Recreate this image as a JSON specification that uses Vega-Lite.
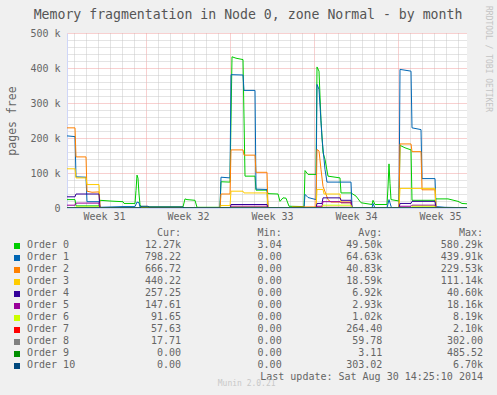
{
  "$schema": "https://vega.github.io/schema/vega-lite/v6.json",
  "width": 400,
  "height": 175,
  "autosize": {"type": "none"},
  "padding": {"left": 67, "top": 33, "right": 30, "bottom": 187},
  "background": "#F0F0F0",
  "config": {
    "font": "DejaVu Sans Mono",
    "view": {"fill": "#FFFFFF", "stroke": null},
    "axis": {"labelFont": "DejaVu Sans Mono", "titleFont": "DejaVu Sans Mono"},
    "text": {"font": "DejaVu Sans Mono"}
  },
  "title": {
    "text": "Memory fragmentation in Node 0, zone Normal - by month",
    "font": "DejaVu Sans Mono",
    "fontSize": 13.2,
    "fontWeight": "normal",
    "color": "#555555",
    "anchor": "middle",
    "frame": "group",
    "dx": -19,
    "offset": 0,
    "dy": 17
  },
  "datasets": {
    "series": [
      {"o":0,"t":"2014-07-28T10:00Z","v":24000},
      {"o":0,"t":"2014-07-29T02:00Z","v":24000},
      {"o":0,"t":"2014-07-29T04:00Z","v":6000},
      {"o":0,"t":"2014-07-31T02:00Z","v":6000},
      {"o":0,"t":"2014-07-31T04:00Z","v":22000},
      {"o":0,"t":"2014-07-31T14:00Z","v":21000},
      {"o":0,"t":"2014-08-01T00:00Z","v":20000},
      {"o":0,"t":"2014-08-01T12:00Z","v":19000},
      {"o":0,"t":"2014-08-02T02:00Z","v":18000},
      {"o":0,"t":"2014-08-02T04:00Z","v":13000},
      {"o":0,"t":"2014-08-03T02:00Z","v":13000},
      {"o":0,"t":"2014-08-03T04:00Z","v":50000},
      {"o":0,"t":"2014-08-03T06:00Z","v":94000},
      {"o":0,"t":"2014-08-03T08:00Z","v":85000},
      {"o":0,"t":"2014-08-03T10:00Z","v":40000},
      {"o":0,"t":"2014-08-03T12:00Z","v":10000},
      {"o":0,"t":"2014-08-03T14:00Z","v":3000},
      {"o":0,"t":"2014-08-07T02:00Z","v":3000},
      {"o":0,"t":"2014-08-07T06:00Z","v":26000},
      {"o":0,"t":"2014-08-07T10:00Z","v":24000},
      {"o":0,"t":"2014-08-08T02:00Z","v":22000},
      {"o":0,"t":"2014-08-08T06:00Z","v":2000},
      {"o":0,"t":"2014-08-10T04:00Z","v":2000},
      {"o":0,"t":"2014-08-10T06:00Z","v":75000},
      {"o":0,"t":"2014-08-11T00:00Z","v":74000},
      {"o":0,"t":"2014-08-11T04:00Z","v":432000},
      {"o":0,"t":"2014-08-11T12:00Z","v":428000},
      {"o":0,"t":"2014-08-12T02:00Z","v":424000},
      {"o":0,"t":"2014-08-12T06:00Z","v":91000},
      {"o":0,"t":"2014-08-13T02:00Z","v":91000},
      {"o":0,"t":"2014-08-13T04:00Z","v":51000},
      {"o":0,"t":"2014-08-14T02:00Z","v":51000},
      {"o":0,"t":"2014-08-14T04:00Z","v":41000},
      {"o":0,"t":"2014-08-15T00:00Z","v":40000},
      {"o":0,"t":"2014-08-15T04:00Z","v":19000},
      {"o":0,"t":"2014-08-15T10:00Z","v":29000},
      {"o":0,"t":"2014-08-15T16:00Z","v":28000},
      {"o":0,"t":"2014-08-15T22:00Z","v":5000},
      {"o":0,"t":"2014-08-17T04:00Z","v":4000},
      {"o":0,"t":"2014-08-17T06:00Z","v":107000},
      {"o":0,"t":"2014-08-17T12:00Z","v":96000},
      {"o":0,"t":"2014-08-18T04:00Z","v":96000},
      {"o":0,"t":"2014-08-18T06:00Z","v":403000},
      {"o":0,"t":"2014-08-18T10:00Z","v":391000},
      {"o":0,"t":"2014-08-18T14:00Z","v":250000},
      {"o":0,"t":"2014-08-18T18:00Z","v":158000},
      {"o":0,"t":"2014-08-18T22:00Z","v":139000},
      {"o":0,"t":"2014-08-19T04:00Z","v":91000},
      {"o":0,"t":"2014-08-20T04:00Z","v":86000},
      {"o":0,"t":"2014-08-20T06:00Z","v":43000},
      {"o":0,"t":"2014-08-21T02:00Z","v":43000},
      {"o":0,"t":"2014-08-21T12:00Z","v":34000},
      {"o":0,"t":"2014-08-21T22:00Z","v":15000},
      {"o":0,"t":"2014-08-22T20:00Z","v":10000},
      {"o":0,"t":"2014-08-22T22:00Z","v":22000},
      {"o":0,"t":"2014-08-23T02:00Z","v":10000},
      {"o":0,"t":"2014-08-24T02:00Z","v":10000},
      {"o":0,"t":"2014-08-24T04:00Z","v":60000},
      {"o":0,"t":"2014-08-24T06:00Z","v":126000},
      {"o":0,"t":"2014-08-24T08:00Z","v":70000},
      {"o":0,"t":"2014-08-24T10:00Z","v":24000},
      {"o":0,"t":"2014-08-25T02:00Z","v":20000},
      {"o":0,"t":"2014-08-25T04:00Z","v":179000},
      {"o":0,"t":"2014-08-25T14:00Z","v":172000},
      {"o":0,"t":"2014-08-26T02:00Z","v":166000},
      {"o":0,"t":"2014-08-26T04:00Z","v":22000},
      {"o":0,"t":"2014-08-28T02:00Z","v":22000},
      {"o":0,"t":"2014-08-28T04:00Z","v":26000},
      {"o":0,"t":"2014-08-29T04:00Z","v":26000},
      {"o":0,"t":"2014-08-30T00:00Z","v":19000},
      {"o":0,"t":"2014-08-30T08:00Z","v":13000},
      {"o":0,"t":"2014-08-30T18:00Z","v":12000},

      {"o":1,"t":"2014-07-28T10:00Z","v":206000},
      {"o":1,"t":"2014-07-29T02:00Z","v":204000},
      {"o":1,"t":"2014-07-29T04:00Z","v":89000},
      {"o":1,"t":"2014-07-30T00:00Z","v":88000},
      {"o":1,"t":"2014-07-30T02:00Z","v":18000},
      {"o":1,"t":"2014-07-31T02:00Z","v":18000},
      {"o":1,"t":"2014-07-31T04:00Z","v":2000},
      {"o":1,"t":"2014-08-02T02:00Z","v":4000},
      {"o":1,"t":"2014-08-03T02:00Z","v":4000},
      {"o":1,"t":"2014-08-03T06:00Z","v":17000},
      {"o":1,"t":"2014-08-03T10:00Z","v":15000},
      {"o":1,"t":"2014-08-03T12:00Z","v":3000},
      {"o":1,"t":"2014-08-03T14:00Z","v":0},
      {"o":1,"t":"2014-08-10T04:00Z","v":0},
      {"o":1,"t":"2014-08-10T06:00Z","v":88000},
      {"o":1,"t":"2014-08-11T00:00Z","v":86000},
      {"o":1,"t":"2014-08-11T02:00Z","v":381000},
      {"o":1,"t":"2014-08-12T02:00Z","v":380000},
      {"o":1,"t":"2014-08-12T04:00Z","v":336000},
      {"o":1,"t":"2014-08-13T02:00Z","v":336000},
      {"o":1,"t":"2014-08-13T04:00Z","v":54000},
      {"o":1,"t":"2014-08-14T02:00Z","v":53000},
      {"o":1,"t":"2014-08-14T04:00Z","v":0},
      {"o":1,"t":"2014-08-17T04:00Z","v":0},
      {"o":1,"t":"2014-08-17T06:00Z","v":39000},
      {"o":1,"t":"2014-08-17T12:00Z","v":30000},
      {"o":1,"t":"2014-08-18T04:00Z","v":24000},
      {"o":1,"t":"2014-08-18T06:00Z","v":353000},
      {"o":1,"t":"2014-08-18T10:00Z","v":339000},
      {"o":1,"t":"2014-08-18T16:00Z","v":200000},
      {"o":1,"t":"2014-08-18T22:00Z","v":110000},
      {"o":1,"t":"2014-08-19T02:00Z","v":74000},
      {"o":1,"t":"2014-08-21T02:00Z","v":74000},
      {"o":1,"t":"2014-08-21T04:00Z","v":3000},
      {"o":1,"t":"2014-08-21T06:00Z","v":0},
      {"o":1,"t":"2014-08-22T20:00Z","v":0},
      {"o":1,"t":"2014-08-22T22:00Z","v":13000},
      {"o":1,"t":"2014-08-23T02:00Z","v":0},
      {"o":1,"t":"2014-08-24T02:00Z","v":0},
      {"o":1,"t":"2014-08-24T06:00Z","v":24000},
      {"o":1,"t":"2014-08-24T10:00Z","v":5000},
      {"o":1,"t":"2014-08-24T12:00Z","v":0},
      {"o":1,"t":"2014-08-25T02:00Z","v":0},
      {"o":1,"t":"2014-08-25T04:00Z","v":396000},
      {"o":1,"t":"2014-08-26T02:00Z","v":391000},
      {"o":1,"t":"2014-08-26T04:00Z","v":229000},
      {"o":1,"t":"2014-08-26T22:00Z","v":224000},
      {"o":1,"t":"2014-08-27T00:00Z","v":84000},
      {"o":1,"t":"2014-08-28T02:00Z","v":84000},
      {"o":1,"t":"2014-08-28T04:00Z","v":4000},
      {"o":1,"t":"2014-08-28T22:00Z","v":2000},
      {"o":1,"t":"2014-08-30T18:00Z","v":800},

      {"o":2,"t":"2014-07-28T10:00Z","v":229000},
      {"o":2,"t":"2014-07-29T02:00Z","v":229000},
      {"o":2,"t":"2014-07-29T04:00Z","v":146000},
      {"o":2,"t":"2014-07-30T00:00Z","v":146000},
      {"o":2,"t":"2014-07-30T02:00Z","v":48000},
      {"o":2,"t":"2014-07-30T12:00Z","v":45000},
      {"o":2,"t":"2014-07-31T02:00Z","v":46000},
      {"o":2,"t":"2014-07-31T04:00Z","v":0},
      {"o":2,"t":"2014-08-10T04:00Z","v":0},
      {"o":2,"t":"2014-08-10T06:00Z","v":40000},
      {"o":2,"t":"2014-08-11T00:00Z","v":40000},
      {"o":2,"t":"2014-08-11T02:00Z","v":166000},
      {"o":2,"t":"2014-08-12T02:00Z","v":166000},
      {"o":2,"t":"2014-08-12T04:00Z","v":151000},
      {"o":2,"t":"2014-08-13T02:00Z","v":151000},
      {"o":2,"t":"2014-08-13T04:00Z","v":102000},
      {"o":2,"t":"2014-08-14T02:00Z","v":102000},
      {"o":2,"t":"2014-08-14T04:00Z","v":0},
      {"o":2,"t":"2014-08-16T02:00Z","v":0},
      {"o":2,"t":"2014-08-16T04:00Z","v":3000},
      {"o":2,"t":"2014-08-18T04:00Z","v":3000},
      {"o":2,"t":"2014-08-18T06:00Z","v":167000},
      {"o":2,"t":"2014-08-18T10:00Z","v":163000},
      {"o":2,"t":"2014-08-18T14:00Z","v":110000},
      {"o":2,"t":"2014-08-18T18:00Z","v":62000},
      {"o":2,"t":"2014-08-19T00:00Z","v":39000},
      {"o":2,"t":"2014-08-19T04:00Z","v":24000},
      {"o":2,"t":"2014-08-19T10:00Z","v":17000},
      {"o":2,"t":"2014-08-21T02:00Z","v":17000},
      {"o":2,"t":"2014-08-21T04:00Z","v":0},
      {"o":2,"t":"2014-08-25T02:00Z","v":0},
      {"o":2,"t":"2014-08-25T04:00Z","v":183000},
      {"o":2,"t":"2014-08-26T02:00Z","v":183000},
      {"o":2,"t":"2014-08-26T04:00Z","v":161000},
      {"o":2,"t":"2014-08-26T22:00Z","v":161000},
      {"o":2,"t":"2014-08-27T00:00Z","v":52000},
      {"o":2,"t":"2014-08-28T02:00Z","v":52000},
      {"o":2,"t":"2014-08-28T04:00Z","v":1000},
      {"o":2,"t":"2014-08-30T18:00Z","v":700},

      {"o":3,"t":"2014-07-28T10:00Z","v":112000},
      {"o":3,"t":"2014-07-29T02:00Z","v":112000},
      {"o":3,"t":"2014-07-29T04:00Z","v":86000},
      {"o":3,"t":"2014-07-30T00:00Z","v":86000},
      {"o":3,"t":"2014-07-30T02:00Z","v":67000},
      {"o":3,"t":"2014-07-31T02:00Z","v":67000},
      {"o":3,"t":"2014-07-31T04:00Z","v":0},
      {"o":3,"t":"2014-08-10T04:00Z","v":0},
      {"o":3,"t":"2014-08-10T06:00Z","v":7000},
      {"o":3,"t":"2014-08-11T00:00Z","v":7000},
      {"o":3,"t":"2014-08-11T02:00Z","v":48000},
      {"o":3,"t":"2014-08-12T02:00Z","v":48000},
      {"o":3,"t":"2014-08-12T04:00Z","v":43000},
      {"o":3,"t":"2014-08-14T02:00Z","v":43000},
      {"o":3,"t":"2014-08-14T04:00Z","v":0},
      {"o":3,"t":"2014-08-18T04:00Z","v":0},
      {"o":3,"t":"2014-08-18T06:00Z","v":53000},
      {"o":3,"t":"2014-08-18T18:00Z","v":53000},
      {"o":3,"t":"2014-08-18T20:00Z","v":40000},
      {"o":3,"t":"2014-08-20T04:00Z","v":40000},
      {"o":3,"t":"2014-08-20T06:00Z","v":15000},
      {"o":3,"t":"2014-08-21T02:00Z","v":15000},
      {"o":3,"t":"2014-08-21T04:00Z","v":0},
      {"o":3,"t":"2014-08-25T02:00Z","v":0},
      {"o":3,"t":"2014-08-25T04:00Z","v":56000},
      {"o":3,"t":"2014-08-28T02:00Z","v":56000},
      {"o":3,"t":"2014-08-28T04:00Z","v":500},
      {"o":3,"t":"2014-08-30T18:00Z","v":440},

      {"o":4,"t":"2014-07-28T10:00Z","v":32000},
      {"o":4,"t":"2014-07-29T02:00Z","v":32000},
      {"o":4,"t":"2014-07-29T04:00Z","v":40000},
      {"o":4,"t":"2014-07-31T02:00Z","v":40000},
      {"o":4,"t":"2014-07-31T04:00Z","v":0},
      {"o":4,"t":"2014-08-11T00:00Z","v":0},
      {"o":4,"t":"2014-08-11T02:00Z","v":10000},
      {"o":4,"t":"2014-08-14T02:00Z","v":10000},
      {"o":4,"t":"2014-08-14T04:00Z","v":0},
      {"o":4,"t":"2014-08-18T04:00Z","v":0},
      {"o":4,"t":"2014-08-18T06:00Z","v":13000},
      {"o":4,"t":"2014-08-18T16:00Z","v":13000},
      {"o":4,"t":"2014-08-18T18:00Z","v":29000},
      {"o":4,"t":"2014-08-20T04:00Z","v":29000},
      {"o":4,"t":"2014-08-20T06:00Z","v":22000},
      {"o":4,"t":"2014-08-21T02:00Z","v":22000},
      {"o":4,"t":"2014-08-21T04:00Z","v":0},
      {"o":4,"t":"2014-08-25T02:00Z","v":0},
      {"o":4,"t":"2014-08-25T04:00Z","v":13000},
      {"o":4,"t":"2014-08-26T02:00Z","v":13000},
      {"o":4,"t":"2014-08-26T04:00Z","v":19000},
      {"o":4,"t":"2014-08-28T02:00Z","v":19000},
      {"o":4,"t":"2014-08-28T04:00Z","v":300},
      {"o":4,"t":"2014-08-30T18:00Z","v":257},

      {"o":5,"t":"2014-07-28T10:00Z","v":8000},
      {"o":5,"t":"2014-07-29T02:00Z","v":8000},
      {"o":5,"t":"2014-07-29T04:00Z","v":14000},
      {"o":5,"t":"2014-07-31T02:00Z","v":14000},
      {"o":5,"t":"2014-07-31T04:00Z","v":0},
      {"o":5,"t":"2014-08-11T00:00Z","v":0},
      {"o":5,"t":"2014-08-11T02:00Z","v":5000},
      {"o":5,"t":"2014-08-14T02:00Z","v":5000},
      {"o":5,"t":"2014-08-14T04:00Z","v":0},
      {"o":5,"t":"2014-08-18T04:00Z","v":0},
      {"o":5,"t":"2014-08-18T06:00Z","v":5000},
      {"o":5,"t":"2014-08-18T16:00Z","v":5000},
      {"o":5,"t":"2014-08-18T18:00Z","v":18000},
      {"o":5,"t":"2014-08-20T04:00Z","v":18000},
      {"o":5,"t":"2014-08-20T06:00Z","v":15000},
      {"o":5,"t":"2014-08-21T02:00Z","v":15000},
      {"o":5,"t":"2014-08-21T04:00Z","v":0},
      {"o":5,"t":"2014-08-25T02:00Z","v":0},
      {"o":5,"t":"2014-08-25T04:00Z","v":5000},
      {"o":5,"t":"2014-08-26T02:00Z","v":5000},
      {"o":5,"t":"2014-08-26T04:00Z","v":8000},
      {"o":5,"t":"2014-08-28T02:00Z","v":8000},
      {"o":5,"t":"2014-08-28T04:00Z","v":150},
      {"o":5,"t":"2014-08-30T18:00Z","v":148},

      {"o":6,"t":"2014-07-28T10:00Z","v":1000},
      {"o":6,"t":"2014-07-29T02:00Z","v":1000},
      {"o":6,"t":"2014-07-29T04:00Z","v":3000},
      {"o":6,"t":"2014-07-31T02:00Z","v":3000},
      {"o":6,"t":"2014-07-31T04:00Z","v":0},
      {"o":6,"t":"2014-08-11T00:00Z","v":0},
      {"o":6,"t":"2014-08-11T02:00Z","v":2000},
      {"o":6,"t":"2014-08-14T02:00Z","v":2000},
      {"o":6,"t":"2014-08-14T04:00Z","v":0},
      {"o":6,"t":"2014-08-18T16:00Z","v":0},
      {"o":6,"t":"2014-08-18T18:00Z","v":8000},
      {"o":6,"t":"2014-08-21T02:00Z","v":8000},
      {"o":6,"t":"2014-08-21T04:00Z","v":0},
      {"o":6,"t":"2014-08-26T02:00Z","v":0},
      {"o":6,"t":"2014-08-26T04:00Z","v":5000},
      {"o":6,"t":"2014-08-28T02:00Z","v":5000},
      {"o":6,"t":"2014-08-28T04:00Z","v":92},
      {"o":6,"t":"2014-08-30T18:00Z","v":92},

      {"o":7,"t":"2014-07-28T10:00Z","v":0},
      {"o":7,"t":"2014-08-18T04:00Z","v":0},
      {"o":7,"t":"2014-08-18T06:00Z","v":2000},
      {"o":7,"t":"2014-08-21T02:00Z","v":2000},
      {"o":7,"t":"2014-08-21T04:00Z","v":0},
      {"o":7,"t":"2014-08-26T02:00Z","v":0},
      {"o":7,"t":"2014-08-26T04:00Z","v":1000},
      {"o":7,"t":"2014-08-28T02:00Z","v":1000},
      {"o":7,"t":"2014-08-28T04:00Z","v":58},
      {"o":7,"t":"2014-08-30T18:00Z","v":58},

      {"o":8,"t":"2014-07-28T10:00Z","v":0},
      {"o":8,"t":"2014-08-18T04:00Z","v":0},
      {"o":8,"t":"2014-08-18T06:00Z","v":300},
      {"o":8,"t":"2014-08-21T02:00Z","v":300},
      {"o":8,"t":"2014-08-21T04:00Z","v":0},
      {"o":8,"t":"2014-08-30T18:00Z","v":18},

      {"o":9,"t":"2014-07-28T10:00Z","v":0},
      {"o":9,"t":"2014-08-30T18:00Z","v":0},

      {"o":10,"t":"2014-07-28T10:00Z","v":0},
      {"o":10,"t":"2014-08-03T12:00Z","v":0},
      {"o":10,"t":"2014-08-03T14:00Z","v":5000},
      {"o":10,"t":"2014-08-04T04:00Z","v":5000},
      {"o":10,"t":"2014-08-04T06:00Z","v":3000},
      {"o":10,"t":"2014-08-07T02:00Z","v":3000},
      {"o":10,"t":"2014-08-07T04:00Z","v":0},
      {"o":10,"t":"2014-08-30T18:00Z","v":0}
    ],
    "stats": [
      {"name":"hdr","o":-1,"Cur":"Cur:\u00a0\u00a0","Min":"Min:\u00a0\u00a0","Avg":"Avg:\u00a0\u00a0","Max":"Max:\u00a0\u00a0"},
      {"name":"Order 0","o":0,"Cur":"12.27k","Min":"3.04\u00a0","Avg":"49.50k","Max":"580.29k"},
      {"name":"Order 1","o":1,"Cur":"798.22\u00a0","Min":"0.00\u00a0","Avg":"64.63k","Max":"439.91k"},
      {"name":"Order 2","o":2,"Cur":"666.72\u00a0","Min":"0.00\u00a0","Avg":"40.83k","Max":"229.53k"},
      {"name":"Order 3","o":3,"Cur":"440.22\u00a0","Min":"0.00\u00a0","Avg":"18.59k","Max":"111.14k"},
      {"name":"Order 4","o":4,"Cur":"257.25\u00a0","Min":"0.00\u00a0","Avg":"6.92k","Max":"40.60k"},
      {"name":"Order 5","o":5,"Cur":"147.61\u00a0","Min":"0.00\u00a0","Avg":"2.93k","Max":"18.16k"},
      {"name":"Order 6","o":6,"Cur":"91.65\u00a0","Min":"0.00\u00a0","Avg":"1.02k","Max":"8.19k"},
      {"name":"Order 7","o":7,"Cur":"57.63\u00a0","Min":"0.00\u00a0","Avg":"264.40\u00a0","Max":"2.10k"},
      {"name":"Order 8","o":8,"Cur":"17.71\u00a0","Min":"0.00\u00a0","Avg":"59.78\u00a0","Max":"302.00\u00a0"},
      {"name":"Order 9","o":9,"Cur":"0.00\u00a0","Min":"0.00\u00a0","Avg":"3.11\u00a0","Max":"485.52\u00a0"},
      {"name":"Order 10","o":10,"Cur":"0.00\u00a0","Min":"0.00\u00a0","Avg":"303.02\u00a0","Max":"6.70k"}
    ]
  },
  "layer": [
    {
      "data": {"name": "series"},
      "mark": {"type": "line", "strokeWidth": 1, "clip": true},
      "encoding": {
        "x": {
          "field": "t",
          "type": "temporal",
          "scale": {"type": "utc", "domain": [{"year":2014,"month":7,"date":28,"hours":10,"utc":true},{"year":2014,"month":8,"date":30,"hours":18,"utc":true}]},
          "axis": {
            "title": null,
            "values": [
              {"year":2014,"month":7,"date":29,"utc":true},
              {"year":2014,"month":7,"date":30,"utc":true},
              {"year":2014,"month":7,"date":31,"utc":true},
              {"year":2014,"month":7,"date":31,"hours":12,"utc":true},
              {"year":2014,"month":8,"date":1,"utc":true},
              {"year":2014,"month":8,"date":2,"utc":true},
              {"year":2014,"month":8,"date":3,"utc":true},
              {"year":2014,"month":8,"date":4,"utc":true},
              {"year":2014,"month":8,"date":5,"utc":true},
              {"year":2014,"month":8,"date":6,"utc":true},
              {"year":2014,"month":8,"date":7,"utc":true},
              {"year":2014,"month":8,"date":7,"hours":12,"utc":true},
              {"year":2014,"month":8,"date":8,"utc":true},
              {"year":2014,"month":8,"date":9,"utc":true},
              {"year":2014,"month":8,"date":10,"utc":true},
              {"year":2014,"month":8,"date":11,"utc":true},
              {"year":2014,"month":8,"date":12,"utc":true},
              {"year":2014,"month":8,"date":13,"utc":true},
              {"year":2014,"month":8,"date":14,"utc":true},
              {"year":2014,"month":8,"date":14,"hours":12,"utc":true},
              {"year":2014,"month":8,"date":15,"utc":true},
              {"year":2014,"month":8,"date":16,"utc":true},
              {"year":2014,"month":8,"date":17,"utc":true},
              {"year":2014,"month":8,"date":18,"utc":true},
              {"year":2014,"month":8,"date":19,"utc":true},
              {"year":2014,"month":8,"date":20,"utc":true},
              {"year":2014,"month":8,"date":21,"utc":true},
              {"year":2014,"month":8,"date":21,"hours":12,"utc":true},
              {"year":2014,"month":8,"date":22,"utc":true},
              {"year":2014,"month":8,"date":23,"utc":true},
              {"year":2014,"month":8,"date":24,"utc":true},
              {"year":2014,"month":8,"date":25,"utc":true},
              {"year":2014,"month":8,"date":26,"utc":true},
              {"year":2014,"month":8,"date":27,"utc":true},
              {"year":2014,"month":8,"date":28,"utc":true},
              {"year":2014,"month":8,"date":28,"hours":12,"utc":true},
              {"year":2014,"month":8,"date":29,"utc":true},
              {"year":2014,"month":8,"date":30,"utc":true}
            ],
            "grid": true,
            "gridColor": {"condition": {"test": "utcday(datum.value) == 1 && utchours(datum.value) == 0", "value": "#F0A0A0"}, "value": "#C8C8C8"},
            "gridOpacity": {"condition": {"test": "utchours(datum.value) == 12", "value": 0}, "value": 1},
            "gridDash": [1, 1],
            "ticks": false,
            "domainColor": "#CFD6F8",
            "labelExpr": "utchours(datum.value) == 12 ? 'Week ' + (31 + floor((datum.value - utc(2014, 6, 28)) / 604800000)) : ''",
            "labelFontSize": 10,
            "labelColor": "#666666",
            "labelPadding": 3,
            "labelFlush": false,
            "labelOverlap": false
          }
        },
        "y": {
          "field": "v",
          "type": "quantitative",
          "scale": {"domain": [0, 500000], "nice": false},
          "axis": {
            "values": [0,20000,40000,60000,80000,100000,120000,140000,160000,180000,200000,220000,240000,260000,280000,300000,320000,340000,360000,380000,400000,420000,440000,460000,480000,500000],
            "grid": true,
            "gridColor": {"condition": {"test": "datum.value % 100000 == 0", "value": "#F0A0A0"}, "value": "#C8C8C8"},
            "gridDash": [1, 1],
            "ticks": false,
            "domainColor": "#CFD6F8",
            "labelExpr": "datum.value % 100000 == 0 ? (datum.value == 0 ? '0' : (datum.value / 1000) + ' k') : ''",
            "labelFontSize": 10,
            "labelColor": "#666666",
            "labelPadding": 7,
            "labelOverlap": false,
            "labelFlush": false,
            "title": "pages free",
            "titleFontSize": 11.5,
            "titleFontWeight": "normal",
            "titleColor": "#666666",
            "titleX": -55,
            "titleY": 87.5,
            "titleAngle": -90,
            "titleAlign": "center",
            "titleBaseline": "middle"
          }
        },
        "color": {
          "field": "o",
          "type": "nominal",
          "scale": {"domain": [0,1,2,3,4,5,6,7,8,9,10], "range": ["#00CC00","#0066B3","#FF8000","#FFCC00","#330099","#990099","#CCFF00","#FF0000","#808080","#008F00","#00487D"]},
          "legend": null
        }
      }
    },
    {
      "data": {"name": "stats"},
      "encoding": {
        "y": {
          "field": "name",
          "type": "nominal",
          "scale": {"type": "point", "domain": ["hdr","Order 0","Order 1","Order 2","Order 3","Order 4","Order 5","Order 6","Order 7","Order 8","Order 9","Order 10","upd"], "range": [200, 344], "padding": 0},
          "axis": {
            "orient": "right",
            "domain": false,
            "ticks": false,
            "labels": false,
            "grid": false,
            "title": "RRDTOOL / TOBI OETIKER",
            "titleX": 20,
            "titleY": 25.5,
            "titleAngle": 90,
            "titleAlign": "center",
            "titleBaseline": "middle",
            "titleFontSize": 8,
            "titleFontWeight": "normal",
            "titleColor": "#C4C4C4"
          }
        }
      },
      "layer": [
        {
          "transform": [{"fold": ["Cur","Min","Avg","Max"], "as": ["col","val"]}],
          "mark": {"type": "text", "align": "right", "baseline": "middle", "fontSize": 10, "color": "#666666"},
          "encoding": {
            "x": {"field": "col", "type": "nominal", "scale": {"type": "point", "domain": ["Cur","Min","Avg","Max"], "range": [114, 416], "padding": 0}, "axis": null},
            "text": {"field": "val"}
          }
        },
        {
          "transform": [{"filter": "datum.o >= 0"}],
          "mark": {"type": "text", "align": "left", "baseline": "middle", "fontSize": 10, "color": "#666666", "dx": -154},
          "encoding": {
            "x": {"datum": "Cur", "type": "nominal"},
            "text": {"field": "name"}
          }
        },
        {
          "transform": [{"filter": "datum.o >= 0"}],
          "mark": {"type": "square", "size": 36, "filled": true, "opacity": 1, "xOffset": -164, "yOffset": 1},
          "encoding": {
            "x": {"datum": "Cur", "type": "nominal"},
            "color": {
              "field": "o",
              "type": "nominal",
              "scale": {"domain": [0,1,2,3,4,5,6,7,8,9,10], "range": ["#00CC00","#0066B3","#FF8000","#FFCC00","#330099","#990099","#CCFF00","#FF0000","#808080","#008F00","#00487D"]},
              "legend": null
            }
          }
        },
        {
          "data": {"values": [{"name": "upd", "txt": "Last update: Sat Aug 30 14:25:10 2014"}]},
          "mark": {"type": "text", "align": "right", "baseline": "middle", "fontSize": 10, "color": "#666666"},
          "encoding": {
            "x": {"datum": "Max", "type": "nominal"},
            "text": {"field": "txt"}
          }
        },
        {
          "data": {"values": [{"name": "upd", "txt": "Munin 2.0.21"}]},
          "mark": {"type": "text", "align": "center", "baseline": "middle", "fontSize": 8, "color": "#C8C8C8", "dx": -35, "dy": 7},
          "encoding": {
            "x": {"datum": "Min", "type": "nominal"},
            "text": {"field": "txt"}
          }
        }
      ]
    }
  ],
  "resolve": {"scale": {"x": "independent", "y": "independent", "color": "independent"}}
}
